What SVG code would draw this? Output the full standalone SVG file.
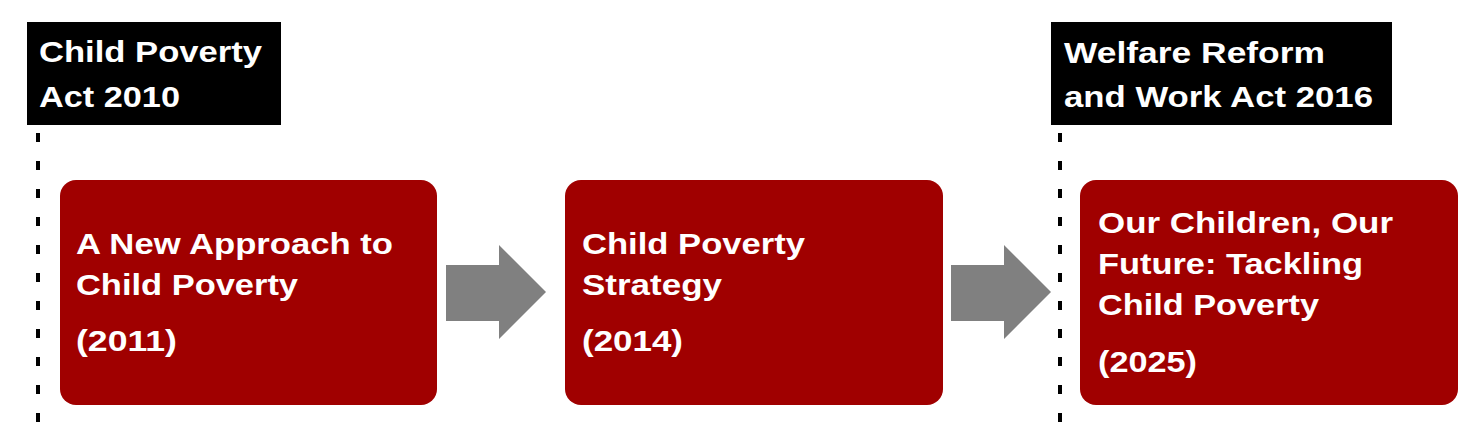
<svg xmlns="http://www.w3.org/2000/svg" width="1476" height="436" viewBox="0 0 1476 436">
<style>
.hdr{fill:#000000}
.box{fill:#A00000}
.arrow{fill:#808080}
.dash{stroke:#000000;stroke-width:4;stroke-dasharray:9 19;fill:none}
text{font-family:"Liberation Sans",Arial,sans-serif;font-weight:bold;font-size:30px;fill:#ffffff}
</style>
<rect width="1476" height="436" fill="#ffffff"/>
<g id="connectors">
<line class="dash" x1="38" y1="133" x2="38" y2="430"/>
<line class="dash" x1="1060" y1="133" x2="1060" y2="430"/>
<polygon class="arrow" points="446,265 499,265 499,245 546,292 499,339 499,321 446,321"/>
<polygon class="arrow" points="951,265 1004,265 1004,245 1051,292 1004,339 1004,321 951,321"/>
</g>
<g id="act2010">
<rect class="hdr" x="27" y="22" width="254" height="103"/>
<text x="39" y="62" textLength="223" lengthAdjust="spacingAndGlyphs">Child Poverty</text>
<text x="39" y="107" textLength="141" lengthAdjust="spacingAndGlyphs">Act 2010</text>
</g>
<g id="act2016">
<rect class="hdr" x="1051" y="22" width="341" height="103"/>
<text x="1064" y="63" textLength="261" lengthAdjust="spacingAndGlyphs">Welfare Reform</text>
<text x="1064" y="107" textLength="309" lengthAdjust="spacingAndGlyphs">and Work Act 2016</text>
</g>
<g id="node2011">
<rect class="box" x="60" y="180" width="377" height="225" rx="16"/>
<text x="76" y="254" textLength="317" lengthAdjust="spacingAndGlyphs">A New Approach to</text>
<text x="76" y="295" textLength="222" lengthAdjust="spacingAndGlyphs">Child Poverty</text>
<text x="76" y="351" textLength="101" lengthAdjust="spacingAndGlyphs">(2011)</text>
</g>
<g id="node2014">
<rect class="box" x="565" y="180" width="378" height="225" rx="16"/>
<text x="582" y="254" textLength="223" lengthAdjust="spacingAndGlyphs">Child Poverty</text>
<text x="582" y="295" textLength="140" lengthAdjust="spacingAndGlyphs">Strategy</text>
<text x="582" y="351" textLength="101" lengthAdjust="spacingAndGlyphs">(2014)</text>
</g>
<g id="node2025">
<rect class="box" x="1080" y="180" width="378" height="225" rx="16"/>
<text x="1098" y="233" textLength="295" lengthAdjust="spacingAndGlyphs">Our Children, Our</text>
<text x="1098" y="274" textLength="265" lengthAdjust="spacingAndGlyphs">Future: Tackling</text>
<text x="1098" y="315" textLength="221" lengthAdjust="spacingAndGlyphs">Child Poverty</text>
<text x="1098" y="372" textLength="99" lengthAdjust="spacingAndGlyphs">(2025)</text>
</g>
</svg>
